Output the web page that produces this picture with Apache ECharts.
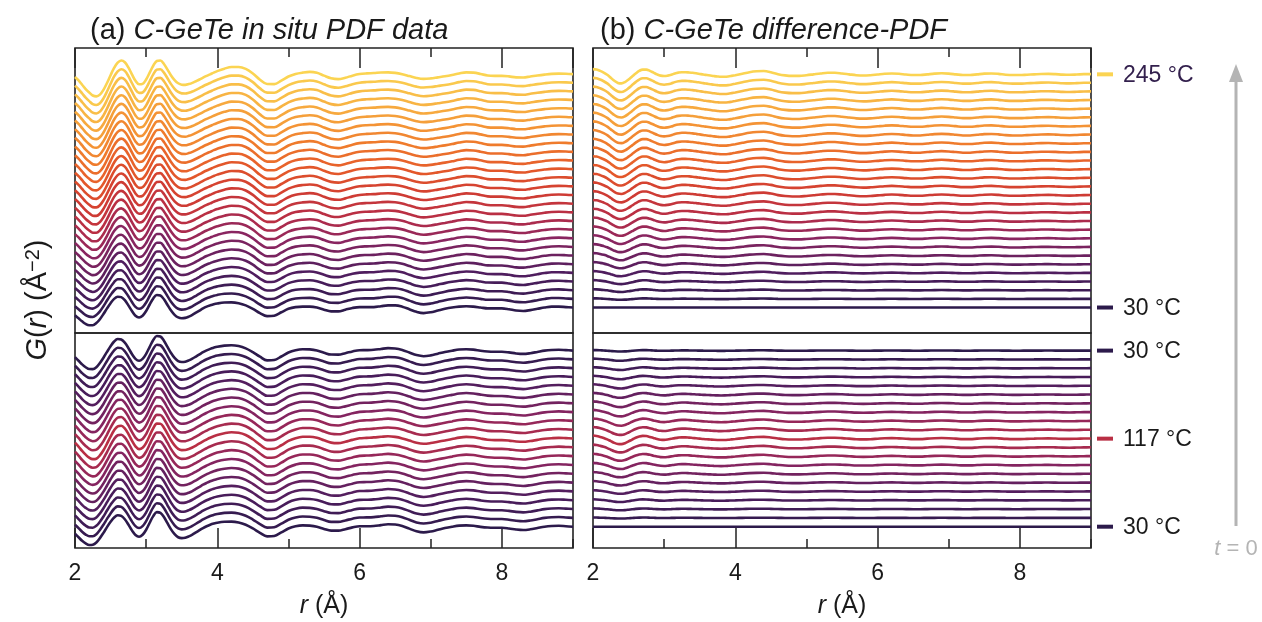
<!DOCTYPE html>
<html><head><meta charset="utf-8">
<script src="https://cdn.jsdelivr.net/npm/echarts@6/dist/echarts.min.js"></script>
<style>html,body{margin:0;padding:0;background:#fff}#c{width:1262px;height:622px}</style>
</head><body><div id="c"></div>
<script>
// r grid (Å)
const R = [2.00,2.05,2.10,2.15,2.20,2.25,2.30,2.35,2.40,2.45,
  2.50,2.55,2.60,2.65,2.70,2.75,2.80,2.85,2.90,2.95,
  3.00,3.05,3.10,3.15,3.20,3.25,3.30,3.35,3.40,3.45,
  3.50,3.55,3.60,3.65,3.70,3.75,3.80,3.85,3.90,3.95,
  4.00,
  4.1,4.2,4.3,4.4,4.5,4.6,4.7,4.8,4.9,5.0,
  5.1,5.2,5.3,5.4,5.5,5.6,5.7,5.8,5.9,6.0,
  6.1,6.2,6.3,6.4,6.5,6.6,6.7,6.8,6.9,7.0,
  7.1,7.2,7.3,7.4,7.5,7.6,7.7,7.8,7.9,8.0,
  8.1,8.2,8.3,8.4,8.5,8.6,8.7,8.8,8.9,9.0];

// heating run (upper panels): G(r) at 30 °C
const G_HEAT_30 = [-0.90,-1.25,-1.60,-1.90,-2.05,-2.05,-1.80,-1.35,-0.75,-0.10,
  0.50,1.00,1.25,1.20,0.85,0.25,-0.40,-0.95,-1.15,-0.95,
  -0.40,0.35,1.05,1.45,1.40,0.95,0.30,-0.35,-0.85,-1.15,
  -1.25,-1.20,-1.05,-0.85,-0.60,-0.35,-0.10,0.10,0.25,0.38,
  0.47,
  0.58,0.60,0.50,0.25,-0.15,-0.65,-1.00,-0.95,-0.55,-0.15,
  0.05,0.10,0.10,0.00,-0.25,-0.45,-0.45,-0.25,-0.05,0.05,
  0.05,0.05,0.15,0.25,0.25,0.10,-0.20,-0.50,-0.65,-0.55,
  -0.35,-0.15,0.00,0.10,0.15,0.10,0.00,-0.10,-0.10,-0.10,
  -0.20,-0.35,-0.40,-0.30,-0.15,0.00,0.10,0.10,0.05,0.00];
// difference-PDF at 245 °C (G(245) - G(30))
const DIFF_HEAT_245 = [0.60,0.55,0.40,0.20,-0.05,-0.40,-0.75,-1.00,-1.05,-0.90,
  -0.60,-0.25,0.10,0.40,0.55,0.55,0.40,0.20,0.00,-0.15,
  -0.20,-0.15,-0.05,0.10,0.20,0.25,0.25,0.22,0.18,0.12,
  0.05,-0.02,-0.08,-0.14,-0.20,-0.25,-0.28,-0.28,-0.25,-0.18,
  -0.10,
  0.08,0.25,0.35,0.38,0.25,0.02,-0.12,-0.18,-0.18,-0.10,
  0.00,0.10,0.18,0.18,0.10,0.00,-0.10,-0.14,-0.10,-0.02,
  0.06,0.10,0.06,-0.02,-0.08,-0.08,0.00,0.08,0.12,0.08,
  0.00,-0.08,-0.08,0.00,0.08,0.10,0.05,-0.04,-0.08,-0.08,
  -0.04,0.00,0.04,0.05,0.02,-0.03,-0.05,-0.02,0.02,0.03];
// fraction of the 245 °C difference reached by each scan
const HEAT_AMP = [0,0.10,0.19,0.28,0.36,0.43,0.50,0.56,0.61,0.66,0.70,0.73,0.76,0.79,
  0.81,0.83,0.85,0.87,0.89,0.90,0.92,0.93,0.94,0.95,0.96,0.97,0.99,1.0];
const HEAT_TEMPS = [30,38,46,54,62,70,78,86,94,102,110,118,126,134,142,150,158,166,173,181,189,197,205,213,221,229,237,245];

// cycling run (lower panels): G(r) at 30 °C
const G_CYCLE_30 = [-0.80,-1.20,-1.60,-1.90,-2.08,-2.05,-1.80,-1.30,-0.70,-0.05,
  0.55,1.05,1.30,1.22,0.85,0.25,-0.42,-0.95,-1.15,-0.92,
  -0.35,0.45,1.20,1.65,1.58,1.10,0.40,-0.30,-0.85,-1.20,
  -1.30,-1.25,-1.10,-0.90,-0.65,-0.40,-0.15,0.05,0.22,0.35,
  0.45,
  0.56,0.58,0.48,0.22,-0.20,-0.70,-1.10,-1.05,-0.65,-0.20,
  0.05,0.15,0.12,0.00,-0.25,-0.45,-0.45,-0.28,-0.08,0.05,
  0.05,0.08,0.18,0.28,0.25,0.08,-0.22,-0.52,-0.65,-0.55,
  -0.35,-0.15,0.00,0.12,0.15,0.10,-0.02,-0.10,-0.12,-0.12,
  -0.20,-0.32,-0.38,-0.30,-0.15,0.00,0.08,0.10,0.05,0.00];
const DIFF_CYCLE_117 = [0.35,0.30,0.20,0.08,-0.08,-0.28,-0.48,-0.60,-0.62,-0.52,
  -0.32,-0.10,0.10,0.25,0.32,0.30,0.20,0.08,-0.04,-0.12,
  -0.14,-0.10,-0.02,0.06,0.12,0.15,0.15,0.12,0.08,0.04,
  0.00,-0.04,-0.07,-0.10,-0.13,-0.15,-0.16,-0.15,-0.12,-0.08,
  -0.04,
  0.05,0.14,0.19,0.20,0.13,0.02,-0.07,-0.10,-0.10,-0.06,
  0.00,0.06,0.10,0.10,0.06,0.00,-0.06,-0.08,-0.06,-0.01,
  0.04,0.06,0.03,-0.01,-0.05,-0.05,0.00,0.05,0.07,0.05,
  0.00,-0.05,-0.05,0.00,0.05,0.06,0.03,-0.02,-0.05,-0.05,
  -0.02,0.00,0.02,0.03,0.01,-0.02,-0.03,-0.01,0.01,0.02];
const CYCLE_AMP = [0,0.12,0.22,0.32,0.42,0.52,0.62,0.72,0.82,0.91,1.0,0.93,0.85,0.76,0.67,0.58,0.49,0.40,0.32,0.24,0.17];
const CYCLE_TEMPS = [30,39,48,56,65,74,82,91,100,108,117,108,100,91,82,74,65,56,48,39,30];

const X_TICK_LABELS = [2,4,6,8];
const T_MIN = 30, T_MAX = 245;
const COLOR_STOPS = [[0,'#2c1a4b'],[0.15,'#4f1d5e'],[0.3,'#8a2560'],[0.4,'#b82e45'],[0.5,'#d23d31'],
  [0.6,'#e4582a'],[0.7,'#ef7a2c'],[0.8,'#f59b38'],[0.9,'#f8b744'],[1,'#fbd452']];
const TEMP_LABELS = [
  {grid:2, offset:27, text:'245 °C', temp:245, textColor:'#33204d'},
  {grid:2, offset:0, text:'30 °C', temp:30, textColor:'#1a1a1a'},
  {grid:3, offset:20, text:'30 °C', temp:30, textColor:'#1a1a1a'},
  {grid:3, offset:10, text:'117 °C', temp:117, textColor:'#1a1a1a'},
  {grid:3, offset:0, text:'30 °C', temp:30, textColor:'#1a1a1a'}
];

const FONT = "'Liberation Sans', Arial, Helvetica, sans-serif";
function hex(c){return [parseInt(c.slice(1,3),16),parseInt(c.slice(3,5),16),parseInt(c.slice(5,7),16)];}
function tempColor(T){
  const f = (T - T_MIN)/(T_MAX - T_MIN);
  for (let i=0;i<COLOR_STOPS.length-1;i++){
    const [a,ca]=COLOR_STOPS[i],[b,cb]=COLOR_STOPS[i+1];
    if (f<=b+1e-9){
      const t=(f-a)/(b-a), A=hex(ca), B=hex(cb);
      return 'rgb('+A.map((v,k)=>Math.round(v+(B[k]-v)*t)).join(',')+')';
    }
  }
  return COLOR_STOPS[COLOR_STOPS.length-1][1];
}

const chart = echarts.init(document.getElementById('c'));
const grids = [
  {left:75, top:48, width:498, height:285},
  {left:75, top:333, width:498, height:215},
  {left:593, top:48, width:498, height:285},
  {left:593, top:333, width:498, height:215}
].map(g=>Object.assign(g,{show:true, borderColor:'#222', borderWidth:1.6, backgroundColor:'transparent'}));

const xAxes = [];
[0,1,2,3].forEach(gi=>{
  const pos = (gi===0||gi===2)?'top':'bottom';
  const lab = pos==='bottom';
  xAxes.push({type:'value', gridIndex:gi, position:pos, min:2, max:9, interval:2,
    axisLine:{show:false, onZero:false}, splitLine:{show:false},
    axisTick:{show:true, inside:true, length:20, lineStyle:{color:'#222', width:1.5}},
    axisLabel:{show:lab, margin:14, fontSize:23, color:'#1a1a1a', fontFamily:FONT,
      showMinLabel:true, showMaxLabel:false,
      formatter:v=>X_TICK_LABELS.indexOf(v)>=0?String(v):''}});
  xAxes.push({type:'value', gridIndex:gi, position:pos, min:2, max:9, interval:1,
    axisLine:{show:false, onZero:false}, splitLine:{show:false}, axisLabel:{show:false},
    axisTick:{show:true, inside:true, length:9, lineStyle:{color:'#222', width:1.5}}});
});
const yAxes = [
  {gridIndex:0, min:-2.95, max:30.05},
  {gridIndex:1, min:-2.42, max:22.0},
  {gridIndex:2, min:-2.95, max:30.05},
  {gridIndex:3, min:-2.42, max:22.0}
].map(a=>Object.assign(a,{type:'value', show:false, axisLine:{onZero:false}}));

const series = [];
function addRun(base, diff, amps, temps, gLeft, gRight){
  const curves = amps.map(a=>base.map((v,k)=>v + a*diff[k]));
  curves.forEach((g,i)=>{
    const col = tempColor(temps[i]);
    const common = {type:'line', showSymbol:false, symbol:'none', smooth:0.35, silent:true,
      animation:false, clip:true, lineStyle:{width:2.6, color:col}, itemStyle:{color:col}};
    series.push(Object.assign({}, common, {xAxisIndex:gLeft*2, yAxisIndex:gLeft,
      data:R.map((r,k)=>[r, g[k]+i])}));
    series.push(Object.assign({}, common, {xAxisIndex:gRight*2, yAxisIndex:gRight,
      data:R.map((r,k)=>[r, (g[k]-curves[0][k])+i])}));
  });
}
addRun(G_HEAT_30, DIFF_HEAT_245, HEAT_AMP, HEAT_TEMPS, 0, 2);
addRun(G_CYCLE_30, DIFF_CYCLE_117, CYCLE_AMP, CYCLE_TEMPS, 1, 3);

chart.setOption({animation:false, backgroundColor:'#fff', grid:grids, xAxis:xAxes, yAxis:yAxes, series:series});

const txt = '#1a1a1a';
const graphic = [];
graphic.push({type:'text', x:90, y:31, style:{text:'{n|(a) }{i|C-GeTe in situ PDF data}',
  textVerticalAlign:'middle', rich:{n:{fontSize:29, fontFamily:FONT, fill:txt},
  i:{fontSize:29, fontFamily:FONT, fontStyle:'italic', fill:txt}}}});
graphic.push({type:'text', x:600, y:31, style:{text:'{n|(b) }{i|C-GeTe difference-PDF}',
  textVerticalAlign:'middle', rich:{n:{fontSize:29, fontFamily:FONT, fill:txt},
  i:{fontSize:29, fontFamily:FONT, fontStyle:'italic', fill:txt}}}});
[324, 842].forEach(cx=>{
  graphic.push({type:'text', x:cx, y:606, style:{text:'{i|r}{n| (Å)}', textAlign:'center',
    textVerticalAlign:'middle', rich:{n:{fontSize:25, fontFamily:FONT, fill:txt},
    i:{fontSize:25, fontFamily:FONT, fontStyle:'italic', fill:txt}}}});
});
graphic.push({type:'text', x:38, y:300, rotation:Math.PI/2, style:{
  text:'{i|G}{n|(}{i|r}{n|) (Å}{s|−2}{n|)}', textAlign:'center', textVerticalAlign:'middle',
  rich:{n:{fontSize:29, fontFamily:FONT, fill:txt, verticalAlign:'bottom'},
    i:{fontSize:29, fontFamily:FONT, fontStyle:'italic', fill:txt, verticalAlign:'bottom'},
    s:{fontSize:20, fontFamily:FONT, fill:txt, verticalAlign:'top'}}}});
TEMP_LABELS.forEach(L=>{
  const p = chart.convertToPixel({gridIndex:L.grid}, [9, L.offset]);
  graphic.push({type:'rect', shape:{x:1097, y:p[1]-2, width:16, height:4}, style:{fill:tempColor(L.temp)}});
  graphic.push({type:'text', x:1123, y:p[1]+1, style:{text:L.text, fontSize:23, fontFamily:FONT,
    fill:L.textColor, textVerticalAlign:'middle'}});
});
graphic.push({type:'line', shape:{x1:1236, y1:526, x2:1236, y2:80}, style:{stroke:'#b4b4b4', lineWidth:3}});
graphic.push({type:'polygon', shape:{points:[[1229,82],[1236,64],[1243,82]]}, style:{fill:'#b4b4b4'}});
graphic.push({type:'text', x:1236, y:549, style:{text:'{i|t}{n| = 0}', textAlign:'center',
  textVerticalAlign:'middle', rich:{n:{fontSize:22, fontFamily:FONT, fill:'#b4b4b4'},
  i:{fontSize:22, fontFamily:FONT, fontStyle:'italic', fill:'#b4b4b4'}}}});
chart.setOption({graphic:graphic});
</script></body></html>
